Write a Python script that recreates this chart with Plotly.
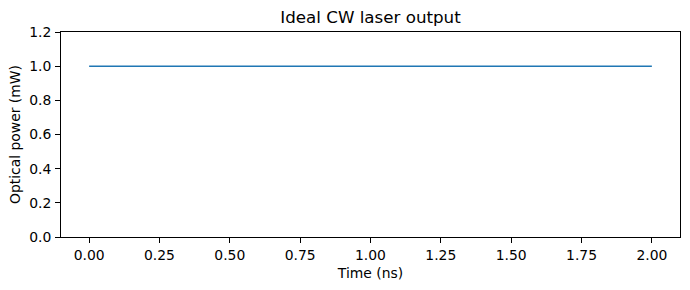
import plotly.graph_objects as go

time_ns = [0.0, 0.25, 0.5, 0.75, 1.0, 1.25, 1.5, 1.75, 2.0]
power_mw = [1.0, 1.0, 1.0, 1.0, 1.0, 1.0, 1.0, 1.0, 1.0]

x_ticks = [0.0, 0.25, 0.5, 0.75, 1.0, 1.25, 1.5, 1.75, 2.0]
x_labels = ["0.00", "0.25", "0.50", "0.75", "1.00", "1.25", "1.50", "1.75", "2.00"]
y_ticks = [0.0, 0.2, 0.4, 0.6, 0.8, 1.0, 1.2]
y_labels = ["0.0", "0.2", "0.4", "0.6", "0.8", "1.0", "1.2"]

font = "DejaVu Sans"

fig = go.Figure()
fig.add_trace(go.Scatter(x=time_ns, y=power_mw, mode="lines",
                         line=dict(color="#1f77b4", width=1.5),
                         showlegend=False))

axis_common = dict(showgrid=False, zeroline=False, showline=True, linecolor="black",
                   linewidth=1, mirror=True, ticks="outside", ticklen=5, tickwidth=1,
                   tickcolor="black", tickfont=dict(family=font, size=13.9, color="black"))

fig.update_layout(
    width=690, height=290,
    margin=dict(l=61, r=10, t=32, b=53),
    paper_bgcolor="white", plot_bgcolor="white",
    title=dict(text="Ideal CW laser output", x=0.5, xanchor="center",
               xref="paper", y=1 - 17 / 290, yanchor="middle",
               font=dict(family=font, size=16.7, color="black")),
    xaxis=dict(range=[-0.1, 2.1], tickvals=x_ticks, ticktext=x_labels,
               title=dict(text="Time (ns)", font=dict(family=font, size=13.9, color="black"), standoff=6),
               **axis_common),
    yaxis=dict(range=[0, 1.2], tickvals=y_ticks, ticktext=y_labels, ticklabelstandoff=1,
               title=dict(text="Optical power (mW)", font=dict(family=font, size=13.9, color="black"), standoff=5),
               **axis_common),
)

fig.write_html("out.html")
